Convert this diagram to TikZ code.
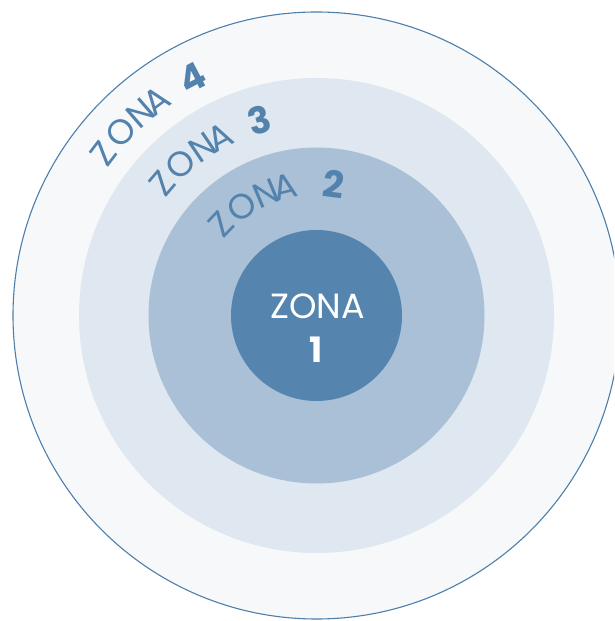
\documentclass[tikz,border=0pt]{standalone}
\usepackage{fontspec}
\setmainfont{Poppins}
\definecolor{ringfour}{HTML}{F6F8FA}
\definecolor{ringthree}{HTML}{DFE8F0}
\definecolor{ringtwo}{HTML}{A9C0D6}
\definecolor{ringone}{HTML}{5585AE}
\definecolor{zblue}{HTML}{5383AD}
\definecolor{edgeblue}{HTML}{4E7EAA}
\begin{document}
\begin{tikzpicture}[x=1pt,y=1pt,
  disc/.style={circle, inner sep=0pt, outer sep=0pt},
  lettr/.style={inner sep=0pt, text=zblue, font=\fontsize{35}{35}\selectfont},
  numr/.style={inner sep=0pt, text=zblue, font=\fontsize{37}{37}\selectfont\bfseries}]
\useasboundingbox (0,0) rectangle (614,621);
\clip (0,0) rectangle (614,621);
\coordinate (c) at (316.5,305.5);
\node[disc, fill=ringfour, draw=edgeblue, line width=1.1pt, minimum size=607] (zone4) at (c) {};
\node[disc, fill=ringthree, minimum size=475] (zone3) at (c) {};
\node[disc, fill=ringtwo, minimum size=336] (zone2) at (c) {};
\node[disc, fill=ringone, minimum size=171] (zone1) at (c) {};
% centre label
\node[inner sep=0pt, text=white, font=\fontsize{35}{35}\selectfont] (t1a) at (317.5,315) {ZONA};
\node[inner sep=0pt, text=white, font=\fontsize{35}{35}\selectfont\bfseries] (t1b) at (315.7,271) {1};
% curved labels: ring radius / angle of Z / arc offset of number / number
\foreach \r/\a/\n/\num/\nm in {268/142.7/117/4/four, 203/139.5/118/3/three, 132/136.3/123.7/2/two} {
  \foreach \ch/\s [count=\k] in {Z/0,O/27,N/54.5,A/75} {
    \pgfmathsetmacro\ang{\a-\s/\r*180/pi}
    \node[lettr, rotate=\ang-90] (l\nm\k) at ([shift={(\ang:\r)}]c) {\ch};
  }
  \pgfmathsetmacro\ang{\a-\n/\r*180/pi}
  \node[numr, rotate=\ang-90] (n\nm) at ([shift={(\ang:\r)}]c) {\num};
}
\end{tikzpicture}
\end{document}
